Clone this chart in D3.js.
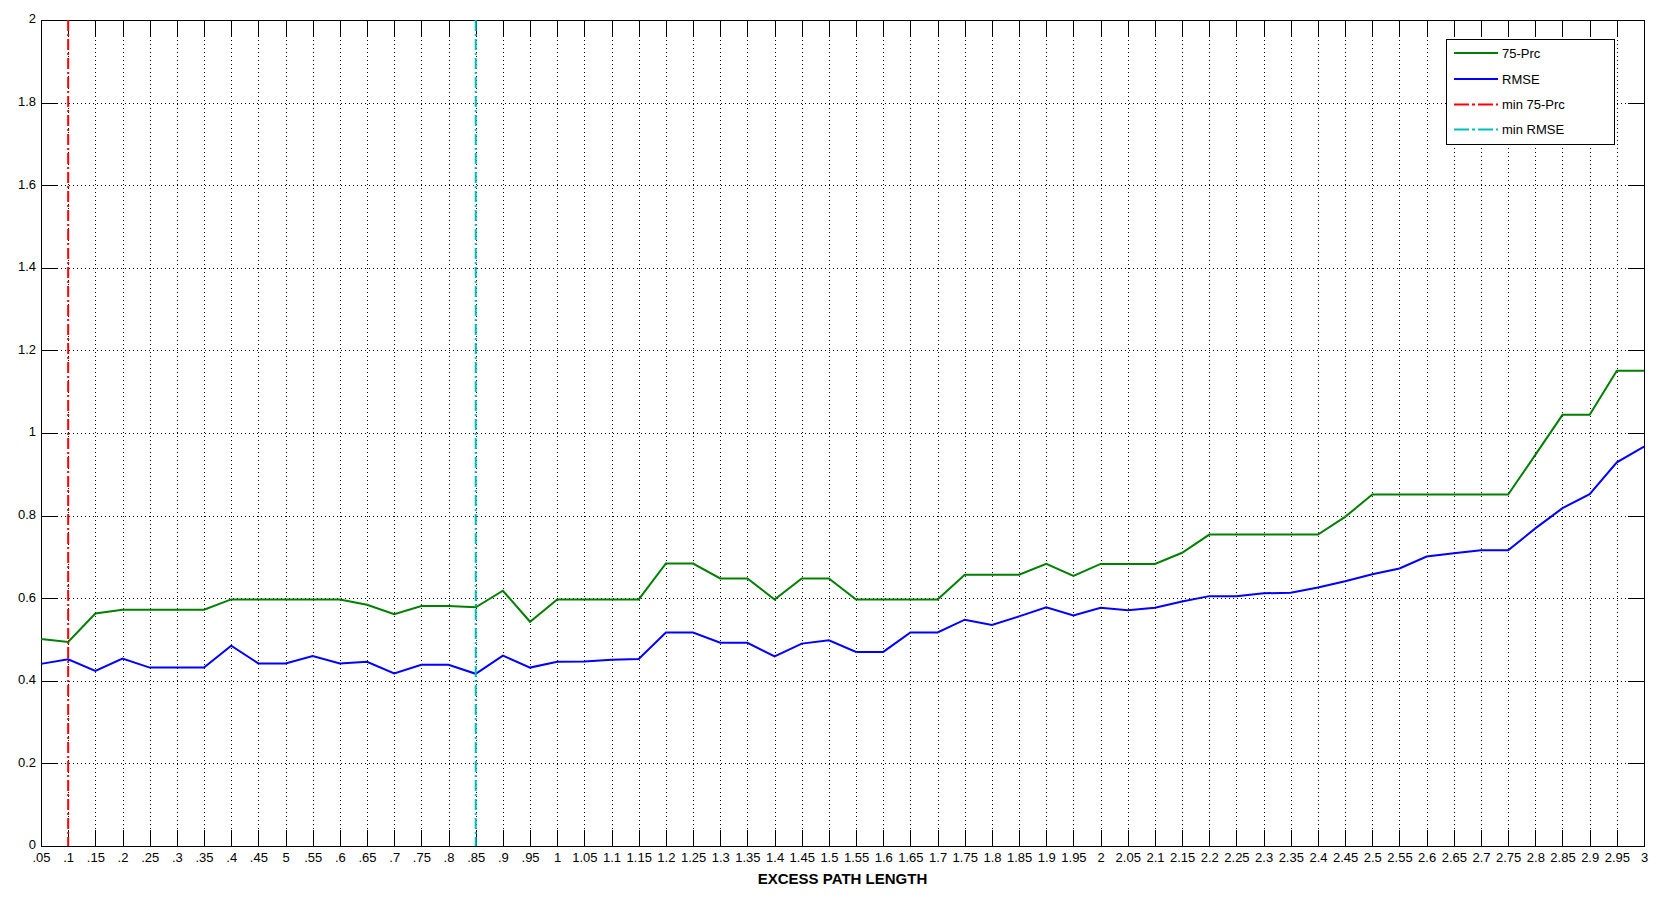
<!DOCTYPE html>
<html>
<head>
<meta charset="utf-8">
<script src="https://cdn.jsdelivr.net/npm/d3@7"></script>
<style>
  html, body { margin: 0; padding: 0; background: #fff; }
  svg { display: block; }
  text { font-family: "Liberation Sans", Arial, Helvetica, sans-serif; fill: #000; }
</style>
</head>
<body>
<svg id="chart" width="1677" height="911"></svg>
<script>
// ---------------- data ----------------
const xValues = [0.05, 0.1, 0.15, 0.2, 0.25, 0.3, 0.35, 0.4, 0.45, 0.5,
  0.55, 0.6, 0.65, 0.7, 0.75, 0.8, 0.85, 0.9, 0.95, 1.0,
  1.05, 1.1, 1.15, 1.2, 1.25, 1.3, 1.35, 1.4, 1.45, 1.5,
  1.55, 1.6, 1.65, 1.7, 1.75, 1.8, 1.85, 1.9, 1.95, 2.0,
  2.05, 2.1, 2.15, 2.2, 2.25, 2.3, 2.35, 2.4, 2.45, 2.5,
  2.55, 2.6, 2.65, 2.7, 2.75, 2.8, 2.85, 2.9, 2.95, 3.0];

const xTickLabels = [".05", ".1", ".15", ".2", ".25", ".3", ".35", ".4", ".45", "5",
  ".55", ".6", ".65", ".7", ".75", ".8", ".85", ".9", ".95", "1",
  "1.05", "1.1", "1.15", "1.2", "1.25", "1.3", "1.35", "1.4", "1.45", "1.5",
  "1.55", "1.6", "1.65", "1.7", "1.75", "1.8", "1.85", "1.9", "1.95", "2",
  "2.05", "2.1", "2.15", "2.2", "2.25", "2.3", "2.35", "2.4", "2.45", "2.5",
  "2.55", "2.6", "2.65", "2.7", "2.75", "2.8", "2.85", "2.9", "2.95", "3"];

const yTickValues = [0, 0.2, 0.4, 0.6, 0.8, 1.0, 1.2, 1.4, 1.6, 1.8, 2.0];
const yTickLabels = ["0", "0.2", "0.4", "0.6", "0.8", "1", "1.2", "1.4", "1.6", "1.8", "2"];

const prc75 = [0.501, 0.494, 0.563, 0.572, 0.572, 0.572, 0.572, 0.597, 0.597, 0.597,
  0.597, 0.597, 0.584, 0.561, 0.581, 0.581, 0.578, 0.618, 0.543, 0.597,
  0.597, 0.597, 0.597, 0.684, 0.684, 0.648, 0.648, 0.597, 0.648, 0.648,
  0.597, 0.597, 0.597, 0.597, 0.657, 0.657, 0.657, 0.683, 0.654, 0.683,
  0.683, 0.683, 0.710, 0.754, 0.754, 0.754, 0.754, 0.754, 0.797, 0.851,
  0.851, 0.851, 0.851, 0.851, 0.851, 0.947, 1.044, 1.044, 1.151, 1.151];

const rmse = [0.441, 0.452, 0.424, 0.454, 0.432, 0.432, 0.432, 0.485, 0.442, 0.442,
  0.460, 0.442, 0.446, 0.418, 0.439, 0.439, 0.417, 0.461, 0.432, 0.446,
  0.447, 0.451, 0.453, 0.517, 0.517, 0.492, 0.492, 0.459, 0.490, 0.498,
  0.470, 0.470, 0.517, 0.517, 0.548, 0.535, 0.556, 0.578, 0.558, 0.577,
  0.571, 0.577, 0.592, 0.605, 0.605, 0.612, 0.613, 0.626, 0.641, 0.658,
  0.672, 0.701, 0.709, 0.716, 0.716, 0.769, 0.818, 0.852, 0.929, 0.967];

const minPrc75X = 0.1;
const minRmseX = 0.85;

const seriesNames = ["75-Prc", "RMSE", "min 75-Prc", "min RMSE"];
const seriesColors = ["#008000", "#0000ff", "#ff0000", "#00bfbf"];

// ---------------- layout ----------------
(function () {
const svg = d3.select("#chart");
const pLeft = 41, pRight = 1644, pTop = 20, pBottom = 846;
const tickLen = 16;

const x = d3.scaleLinear().domain([0.05, 3]).range([pLeft, pRight]);
const y = d3.scaleLinear().domain([0, 2]).range([pBottom, pTop]);

// grid
const grid = svg.append("g").attr("stroke", "#000").attr("stroke-width", 1)
  .attr("stroke-dasharray", "1,3").attr("shape-rendering", "crispEdges");
grid.selectAll("line.vx").data(xValues.slice(1, -1)).join("line")
  .attr("x1", d => Math.round(x(d)) + 0.5).attr("x2", d => Math.round(x(d)) + 0.5)
  .attr("y1", pTop).attr("y2", pBottom);
grid.selectAll("line.hy").data(yTickValues.slice(1, -1)).join("line")
  .attr("x1", pLeft).attr("x2", pRight)
  .attr("y1", d => Math.round(y(d)) + 0.5).attr("y2", d => Math.round(y(d)) + 0.5);

// axes with inward ticks (negative tick size => padding is measured from the axis)
const xAxisBottom = d3.axisBottom(x).tickValues(xValues).tickSize(-tickLen).tickPadding(7)
  .tickFormat((d, i) => xTickLabels[i]);
const xAxisTop = d3.axisTop(x).tickValues(xValues).tickSize(-tickLen).tickFormat("");
const yAxisLeft = d3.axisLeft(y).tickValues(yTickValues).tickSize(-tickLen).tickPadding(5)
  .tickFormat((d, i) => yTickLabels[i]);
const yAxisRight = d3.axisRight(y).tickValues(yTickValues).tickSize(-tickLen).tickFormat("");

function styleAxis(g) {
  g.select(".domain").remove();
  g.selectAll(".tick line").attr("stroke", "#000").attr("shape-rendering", "crispEdges");
  g.selectAll(".tick text").attr("font-size", 13).attr("font-family", "'Liberation Sans', Arial, sans-serif").attr("fill", "#000");
}
svg.append("g").attr("transform", `translate(0,${pBottom})`).call(xAxisBottom).call(styleAxis);
svg.append("g").attr("transform", `translate(0,${pTop})`).call(xAxisTop).call(styleAxis);
svg.append("g").attr("transform", `translate(${pLeft},0)`).call(yAxisLeft).call(styleAxis)
  .selectAll(".tick text").attr("dy", "0.22em");
svg.append("g").attr("transform", `translate(${pRight},0)`).call(yAxisRight).call(styleAxis);

// box
svg.append("rect").attr("x", pLeft + 0.5).attr("y", pTop + 0.5)
  .attr("width", pRight - pLeft).attr("height", pBottom - pTop)
  .attr("fill", "none").attr("stroke", "#000").attr("stroke-width", 1)
  .attr("shape-rendering", "crispEdges");

// series lines
const line = d3.line().x((d, i) => x(xValues[i])).y(d => y(d));
svg.append("path").datum(prc75).attr("d", line)
  .attr("fill", "none").attr("stroke", seriesColors[0]).attr("stroke-width", 2).attr("stroke-linejoin", "miter");
svg.append("path").datum(rmse).attr("d", line)
  .attr("fill", "none").attr("stroke", seriesColors[1]).attr("stroke-width", 2).attr("stroke-linejoin", "miter");

// min vertical lines
[[minPrc75X, seriesColors[2]], [minRmseX, seriesColors[3]]].forEach(([v, c]) => {
  svg.append("line").attr("x1", x(v)).attr("x2", x(v)).attr("y1", pTop).attr("y2", pBottom)
    .attr("stroke", c).attr("stroke-width", 2).attr("stroke-dasharray", "11,3,2,3");
});

// x label
svg.append("text").attr("x", (pLeft + pRight) / 2).attr("y", 884)
  .attr("text-anchor", "middle").attr("font-size", 15).attr("font-weight", "bold")
  .text("EXCESS PATH LENGTH");

// legend
const lg = svg.append("g");
lg.append("rect").attr("x", 1446.5).attr("y", 39.5).attr("width", 168).attr("height", 105)
  .attr("fill", "#fff").attr("stroke", "#000").attr("stroke-width", 1).attr("shape-rendering", "crispEdges");
const rowsY = [53, 79, 104.5, 129.5];
seriesNames.forEach((name, i) => {
  lg.append("line").attr("x1", 1454).attr("x2", 1498).attr("y1", rowsY[i]).attr("y2", rowsY[i])
    .attr("stroke", seriesColors[i]).attr("stroke-width", 2)
    .attr("stroke-dasharray", i >= 2 ? "15,3,3,3" : null);
  lg.append("text").attr("x", 1502).attr("y", rowsY[i] + 4.5).attr("font-size", 13).text(name);
});
})();
</script>
</body>
</html>
